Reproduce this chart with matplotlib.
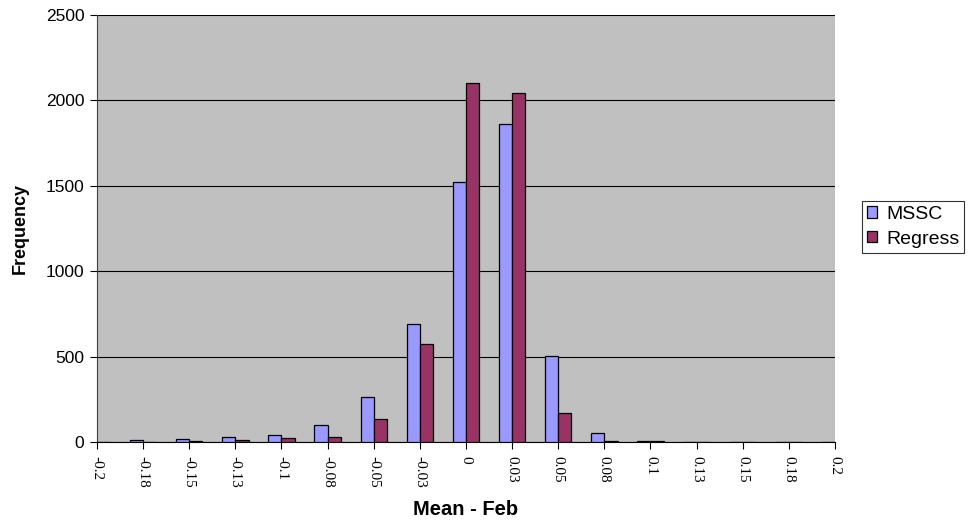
import matplotlib
matplotlib.use("Agg")
import matplotlib.pyplot as plt
import numpy as np

categories = ['-0.2', '-0.18', '-0.15', '-0.13', '-0.1', '-0.08', '-0.05', '-0.03',
              '0', '0.03', '0.05', '0.08', '0.1', '0.13', '0.15', '0.18', '0.2']
mssc = [0, 14, 20, 27, 43, 98, 262, 688, 1523, 1859, 506, 55, 7, 2, 0, 0, 0]
regress = [0, 0, 5, 14, 26, 32, 137, 572, 2100, 2041, 170, 7, 3, 0, 0, 0, 0]
yticks = [0, 500, 1000, 1500, 2000, 2500]

plt.rcParams['font.family'] = ['Liberation Sans', 'DejaVu Sans']

fig = plt.figure(figsize=(9.68, 5.22), dpi=100)
ax = fig.add_axes([0.1002, 0.1533, 0.7624, 0.818])
ax.set_facecolor('#C0C0C0')

x = np.arange(len(categories))
w = 0.285
ax.bar(x - w / 2, mssc, width=w, color='#9999FF', edgecolor='black', linewidth=0.9,
       label='MSSC', zorder=3)
ax.bar(x + w / 2, regress, width=w, color='#993366', edgecolor='black', linewidth=0.9,
       label='Regress', zorder=3)

ax.set_xlim(0, len(categories) - 1)
ax.set_ylim(0, 2500)
ax.set_yticks(yticks)
ax.set_yticklabels([str(v) for v in yticks], fontsize=12.5)
ax.yaxis.grid(True, color='black', linewidth=0.8, zorder=1)
ax.set_axisbelow(True)

ax.set_xticks(x)
ax.set_xticklabels(categories, rotation=270, fontsize=11, family='Liberation Serif',
                   va='top', ha='center')
ax.tick_params(axis='x', length=5, width=0.8, direction='out', pad=5)
ax.tick_params(axis='y', length=5, width=0.8, direction='out', pad=4)

for s in ['top', 'right']:
    ax.spines[s].set_visible(False)
ax.spines['left'].set_color('#404040')
ax.spines['bottom'].set_color('black')

ax.set_ylabel('Frequency', fontsize=13, fontweight='bold')
ax.yaxis.set_label_coords(-0.093, 0.5)
ax.set_xlabel('Mean - Feb', fontsize=14.5, fontweight='bold')
ax.xaxis.set_label_coords(0.5, -0.136)

leg = fig.legend(loc='upper left', bbox_to_anchor=(862 / 968, 1 - 201 / 522),
                 fontsize=14, frameon=True, fancybox=False, edgecolor='black',
                 handlelength=0.53, handleheight=0.53, handletextpad=0.45,
                 borderpad=0.25, labelspacing=0.4, borderaxespad=0)
leg.get_frame().set_linewidth(0.8)

fig.savefig('out.png', dpi=100)
